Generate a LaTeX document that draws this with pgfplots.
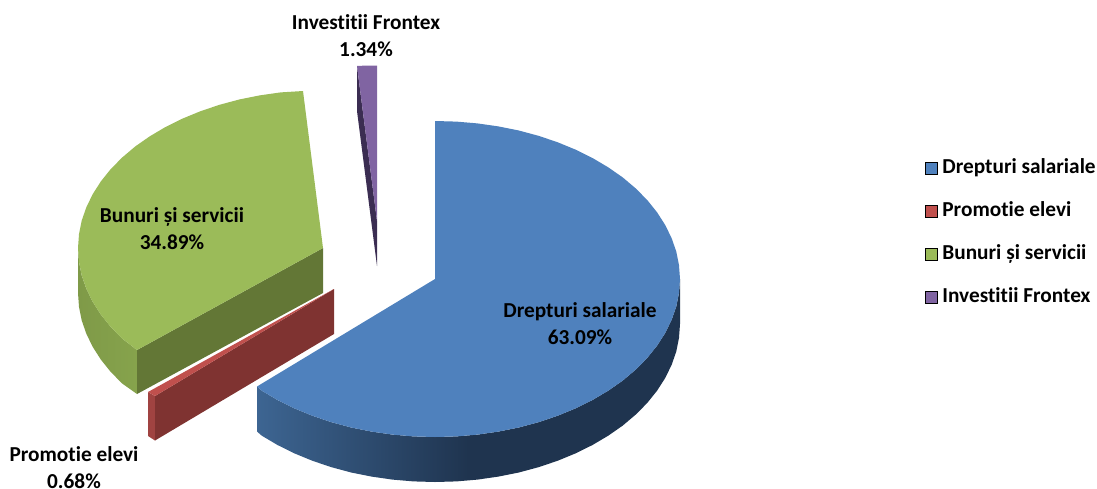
\documentclass[border=0pt]{standalone}
\usepackage{fontspec}
\setmainfont{Carlito}[Ligatures={NoCommon},Contextuals=NoAlternate]
\usepackage{pgfplots}
\pgfplotsset{compat=1.18}
\definecolor{cblue}{HTML}{4F81BD}
\definecolor{cred}{HTML}{C0504D}
\definecolor{cgreen}{HTML}{9BBB59}
\definecolor{cpurple}{HTML}{8064A2}
\definecolor{bluedark}{HTML}{1F344F}
\definecolor{blueleft}{HTML}{3D6592}
\definecolor{greenin}{HTML}{637736}
\definecolor{greenl}{HTML}{7F9A48}
\definecolor{greenr}{HTML}{86A34C}
\definecolor{redfront}{HTML}{7F3331}
\definecolor{redside}{HTML}{A04341}
\definecolor{purpledark}{HTML}{3B2D52}
\begin{document}
\begin{tikzpicture}
\begin{axis}[
  scale only axis, width=1097pt, height=488pt,
  xmin=0, xmax=1097, ymin=0, ymax=488, y dir=reverse,
  hide axis, clip=false, no markers,
  legend style={at={(axis cs:925,158)}, anchor=north west, draw=none, fill=none,
    inner sep=0pt, outer sep=0pt, row sep=23pt,
    font=\fontsize{21.3}{26}\selectfont\bfseries,
    nodes={inner sep=0pt, outer sep=0pt, anchor=west, text height=15pt, text depth=5pt}},
  legend cell align=left,
  legend image code/.code={\fill[#1] (0pt,-6pt) rectangle (12pt,6pt); \path (17pt,0pt);},
]
\addlegendimage{fill=cblue}
\addlegendimage{fill=cred}
\addlegendimage{fill=cgreen}
\addlegendimage{fill=cpurple}
\addlegendentry{Drepturi salariale}
\addlegendentry{Promotie elevi}
\addlegendentry{Bunuri și servicii}
\addlegendentry{Investitii Frontex}

% green wedge: outer wall, inner wall, top
\addplot[forget plot, draw=none, left color=greenl, right color=greenr] coordinates {
(78,248)(79,261.8)(81.7,275.4)(86.4,288.9)(92.8,302)(101,314.8)(110.8,327)(122.3,338.6)(137,350)
(137,394)(122.3,383.6)(110.8,372)(101,359.8)(92.8,347)(86.4,333.9)(81.7,320.4)(79,306.8)(78,293)} -- cycle;
\addplot[forget plot, draw=none, fill=greenin] coordinates {(323,248)(323,293)(137,394)(137,350)} -- cycle;
\addplot[forget plot, draw=none, fill=cgreen] coordinates {
(303,91)(280.5,92.4)(259.6,95.4)(239.2,99.5)(219.5,104.8)(200.5,111.2)(182.5,118.6)(165.5,127)
(149.8,136.3)(135.3,146.4)(122.3,157.4)(110.8,169)(101,181.2)(92.8,194)(86.4,207.1)(81.7,220.6)
(79,234.2)(78,248)(79,261.8)(81.7,275.4)(86.4,288.9)(92.8,302)(101,314.8)(110.8,327)(122.3,338.6)
(137,350)(323,248)} -- cycle;

% purple wedge
\addplot[forget plot, draw=none, fill=purpledark] coordinates {(357,66)(357,111)(377,266)(377,221)} -- cycle;
\addplot[forget plot, draw=none, fill=cpurple] coordinates {(357,66)(367,65.5)(377,65.5)(377,221)} -- cycle;

% red wedge
\addplot[forget plot, draw=none, fill=redside] coordinates {(148,392)(155,396)(155,440.5)(148,436)} -- cycle;
\addplot[forget plot, draw=none, fill=redfront] coordinates {(155,396)(334,289)(334,334)(155,440.5)} -- cycle;
\addplot[forget plot, draw=none, fill=cred] coordinates {(148,392)(334,289)(155,396)} -- cycle;

% blue wedge
\addplot[forget plot, draw=none, left color=blueleft, right color=bluedark, middle color=bluedark] coordinates {
(257,386.5)(261.8,390.7)(277.5,400)(294.5,408.4)(312.5,415.8)(331.5,422.2)(351.2,427.5)(371.6,431.6)
(392.5,434.6)(413.6,436.4)(435,437)(456.4,436.4)(477.5,434.6)(498.4,431.6)(518.8,427.5)(538.5,422.2)
(557.5,415.8)(575.5,408.4)(592.5,400)(608.2,390.7)(622.7,380.6)(635.7,369.6)(647.2,358)(657,345.8)
(665.2,333)(671.6,319.9)(676.3,306.4)(679,292.8)(680,279)
(680,324)(679,337.8)(676.3,351.4)(671.6,364.9)(665.2,378)(657,390.8)(647.2,403)(635.7,414.6)
(622.7,425.6)(608.2,435.7)(592.5,445)(575.5,453.4)(557.5,460.8)(538.5,467.2)(518.8,472.5)(498.4,476.6)
(477.5,479.6)(456.4,481.4)(435,482)(413.6,481.4)(392.5,479.6)(371.6,476.6)(351.2,472.5)(331.5,467.2)
(312.5,460.8)(294.5,453.4)(277.5,445)(261.8,435.7)(257,431.5)} -- cycle;
\addplot[forget plot, draw=none, fill=cblue] coordinates {
(435,279)(435,121)(456.4,121.6)(477.5,123.4)(498.4,126.4)(518.8,130.5)(538.5,135.8)(557.5,142.2)
(575.5,149.6)(592.5,158)(608.2,167.3)(622.7,177.4)(635.7,188.4)(647.2,200)(657,212.2)(665.2,225)
(671.6,238.1)(676.3,251.6)(679,265.2)(680,279)(679,292.8)(676.3,306.4)(671.6,319.9)(665.2,333)
(657,345.8)(647.2,358)(635.7,369.6)(622.7,380.6)(608.2,390.7)(592.5,400)(575.5,408.4)(557.5,415.8)
(538.5,422.2)(518.8,427.5)(498.4,431.6)(477.5,434.6)(456.4,436.4)(435,437)(413.6,436.4)(392.5,434.6)
(371.6,431.6)(351.2,427.5)(331.5,422.2)(312.5,415.8)(294.5,408.4)(277.5,400)(261.8,390.7)(257,386.5)} -- cycle;

\begin{scope}[every node/.style={align=center, inner sep=0pt, font=\fontsize{21.3}{27}\selectfont\bfseries}]
\node at (axis cs:580,324) {Drepturi salariale\\63.09\%};
\node at (axis cs:172,229) {Bunuri și servicii\\34.89\%};
\node at (axis cs:366,36) {Investitii Frontex\\1.34\%};
\node at (axis cs:74,468) {Promotie elevi\\0.68\%};
\end{scope}
\end{axis}
\pgfresetboundingbox
\path[use as bounding box] (current axis.south west) rectangle (current axis.north east);
\end{tikzpicture}
\end{document}
